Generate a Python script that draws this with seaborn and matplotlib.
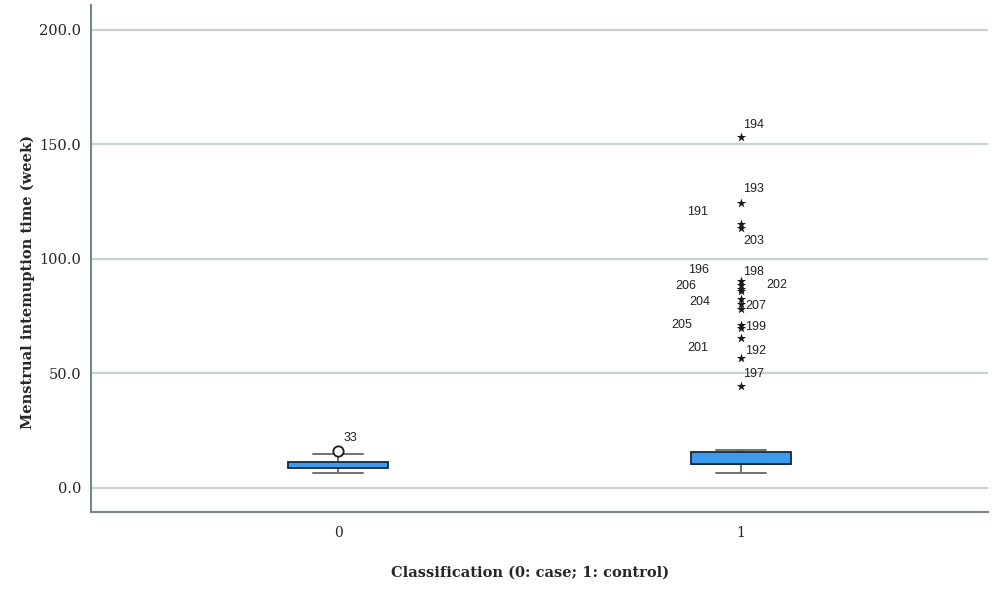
import pandas as pd
import seaborn as sns
import matplotlib.pyplot as plt

# five-number summary per group: lower whisker, Q1, median, Q3, upper whisker
groups = [0, 0, 0, 0, 0, 1, 1, 1, 1, 1]
summary = [6.6, 8.7, 10.0, 11.4, 14.8,
           6.6, 10.5, 11.0, 15.7, 16.6]

# outliers (circle for group 0, extreme stars for group 1)
case_out_vals = [16.3]
case_out_ids = ['33']
ctrl_out_vals = [153.3, 124.5, 115.3, 113.5, 90.4, 88.6, 86.9, 86.0, 82.5, 80.3, 78.2,
                 71.2, 69.9, 65.5, 56.8, 44.5]
ctrl_out_ids = ['194', '193', '191', '203', '196', '198', '206', '202', '204', '207', '',
                '205', '199', '201', '192', '197']
# label offsets in pixels from each marker
ctrl_offsets = [(13, 12), (13, 14), (-43, 12), (13, -13), (-42, 11), (13, 13), (-55, 3), (36, 6),
                (-41, -3), (15, -2), (0, 0), (-59, 0), (15, 1), (-43, -10), (15, 7), (13, 12)]
case_offsets = [(12, 13)]

yticks = [0, 50, 100, 150, 200]

df = pd.DataFrame({'group': groups, 'value': summary})

sns.set_style('white')
plt.rcParams['font.family'] = ['DejaVu Serif']

fig = plt.figure(figsize=(10, 5.96), dpi=100)
ax = fig.add_axes([0.091, 0.141, 0.897, 0.851])

for y in yticks:
    ax.axhline(y, color='#c8d3ce', lw=1.6, zorder=0)

sns.boxplot(data=df, x='group', y='value', whis=(0, 100), width=0.25, showfliers=False,
            color='#3b9cee', saturation=1, linewidth=1.3, ax=ax,
            boxprops=dict(edgecolor='#17263f', facecolor='#3b9cee', zorder=3),
            medianprops=dict(color='#17263f', lw=2.8),
            whiskerprops=dict(color='#6b7372', lw=1.4),
            capprops=dict(color='#6b7372', lw=1.4))

sns.scatterplot(x=[0] * len(case_out_vals), y=case_out_vals, marker='o', s=55,
                facecolor='white', edgecolor='#1a1a1a', linewidth=1.3, ax=ax, zorder=5)
sns.scatterplot(x=[1] * len(ctrl_out_vals), y=ctrl_out_vals, marker='*', s=50,
                color='#1a1a1a', linewidth=0, ax=ax, zorder=5)

for v, lab, off in zip(case_out_vals, case_out_ids, case_offsets):
    ax.annotate(lab, (0, v), xytext=off, textcoords='offset pixels', ha='center', va='center',
                fontsize=9, family='Liberation Sans', color='#222222')
for v, lab, off in zip(ctrl_out_vals, ctrl_out_ids, ctrl_offsets):
    if lab:
        ax.annotate(lab, (1, v), xytext=off, textcoords='offset pixels', ha='center', va='center',
                    fontsize=9, family='Liberation Sans', color='#222222')

ax.set_xlim(-0.613, 1.613)
ax.set_ylim(-10.5, 210.9)
ax.set_xticks([0, 1])
ax.set_xticklabels(['0', '1'], fontsize=10)
ax.set_yticks(yticks)
ax.set_yticklabels([f'{t:.1f}' for t in yticks], fontsize=10.5)
ax.tick_params(axis='y', length=3, color='#8a9694', pad=4)
ax.tick_params(axis='x', length=0, pad=10)

for s in ['top', 'right']:
    ax.spines[s].set_visible(False)
for s in ['left', 'bottom']:
    ax.spines[s].set_color('#7a8885')
    ax.spines[s].set_linewidth(1.5)

ax.set_xlabel('Classification (0: case; 1: control)', fontsize=10.5, fontweight='bold')
ax.set_ylabel('Menstrual intemuption time (week)', fontsize=10.5, fontweight='bold')
ax.xaxis.set_label_coords(0.489, -0.106)
ax.yaxis.set_label_coords(-0.062, 0.454)

fig.savefig('out.png', dpi=100)
